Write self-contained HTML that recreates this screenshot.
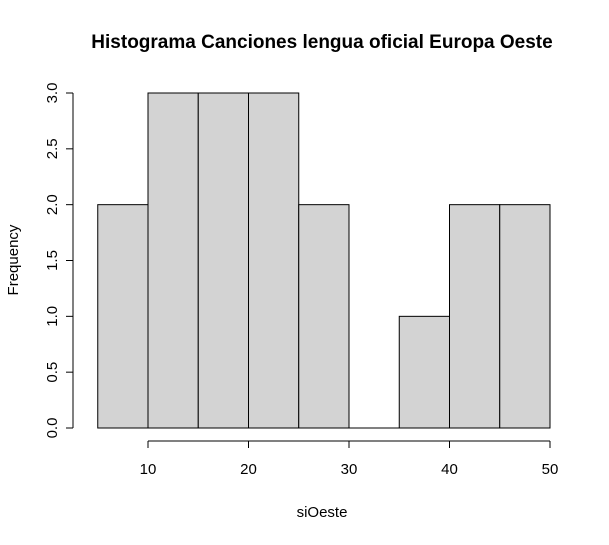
<!DOCTYPE html>
<html><head><meta charset="utf-8"><style>
body{margin:0;background:#fff;}
svg text{font-family:"Liberation Sans",Arial,sans-serif;}
</style></head><body>
<svg id="chart" width="609" height="540" viewBox="0 0 609 540">
<text x="322" y="48" text-anchor="middle" font-size="19" font-weight="bold">Histograma Canciones lengua oficial Europa Oeste</text>
<text x="322" y="517" text-anchor="middle" font-size="15">siOeste</text>
<text transform="translate(18,260) rotate(-90)" text-anchor="middle" font-size="15">Frequency</text>
<g id="bars"></g><g id="xaxis"></g><g id="yaxis"></g>
</svg>
<script>
const breaks=[5,10,15,20,25,30,35,40,45,50];
const counts=[2,3,3,3,2,0,1,2,2];
const xTicks=[10,20,30,40,50];
const yTicks=[0,0.5,1,1.5,2,2.5,3];
const yTickLabels=["0.0","0.5","1.0","1.5","2.0","2.5","3.0"];
const NS="http://www.w3.org/2000/svg";
function sx(v){return 148+(v-10)*(550-148)/40;}
function sy(v){return 428-v*(428-93)/3;}
function mk(t,a,p){const e=document.createElementNS(NS,t);for(const k in a)e.setAttribute(k,a[k]);p.appendChild(e);return e;}
const bars=document.getElementById('bars');
counts.forEach((c,i)=>{
 const x0=sx(breaks[i]),x1=sx(breaks[i+1]);
 const r=mk('rect',{x:x0,y:sy(c),width:x1-x0,height:sy(0)-sy(c),fill:'#d3d3d3',stroke:'#000','stroke-width':1},bars);
 
 
 if(c===0){mk('line',{x1:x0,x2:x1,y1:sy(0),y2:sy(0),stroke:'#000'},bars);}
});
const xa=document.getElementById('xaxis');


mk('line',{x1:sx(xTicks[0]),x2:sx(xTicks[xTicks.length-1]),y1:441,y2:441,stroke:'#000'},xa);
xTicks.forEach(v=>{
 mk('line',{x1:sx(v),x2:sx(v),y1:441,y2:448,stroke:'#000'},xa);
 const t=mk('text',{x:sx(v),y:474,'text-anchor':'middle','font-size':15},xa);t.textContent=v;
 
 
});
const ya=document.getElementById('yaxis');


mk('line',{x1:73,x2:73,y1:sy(yTicks[0]),y2:sy(yTicks[yTicks.length-1]),stroke:'#000'},ya);
yTicks.forEach((v,i)=>{
 mk('line',{x1:66,x2:73,y1:sy(v),y2:sy(v),stroke:'#000'},ya);
 const t=mk('text',{transform:'translate(57,'+sy(v)+') rotate(-90)','text-anchor':'middle','font-size':15},ya);t.textContent=yTickLabels[i];
 
 
});
</script>
</body></html>
